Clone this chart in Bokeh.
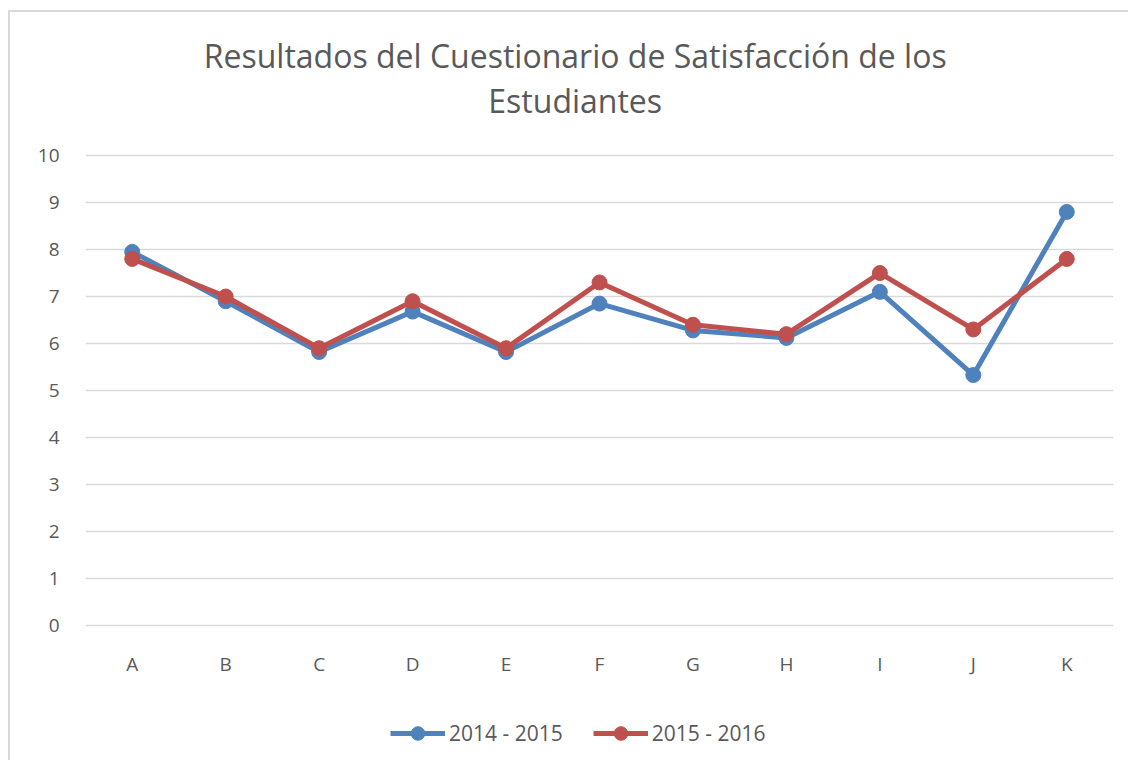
from bokeh.plotting import figure
from bokeh.models import Range1d, Label, Legend, LegendItem, FixedTicker
from bokeh.embed import file_html
from bokeh.resources import INLINE

categories = ["A", "B", "C", "D", "E", "F", "G", "H", "I", "J", "K"]
serie_2014_2015 = [7.95, 6.9, 5.82, 6.68, 5.82, 6.85, 6.28, 6.12, 7.1, 5.33, 8.8]
serie_2015_2016 = [7.8, 7.0, 5.9, 6.9, 5.9, 7.3, 6.4, 6.2, 7.5, 6.3, 7.8]
y_ticks = [0, 1, 2, 3, 4, 5, 6, 7, 8, 9, 10]
title_lines = ["Resultados del Cuestionario de Satisfacción de los", "Estudiantes"]

FONT = "Open Sans"
TXT = "#595959"
BLUE = "#4F81BD"
RED = "#C0504D"

# frame spans the whole chart; only 0..10 is ticked/gridded, the rest hosts
# the title, the category labels and the legend
p = figure(x_range=categories, y_range=Range1d(-2.87, 13.0), width=1120, height=750,
           output_backend="svg", toolbar_location=None, title=None,
           min_border_left=75, min_border_right=17, min_border_top=2,
           min_border_bottom=2)
p.styles = {"margin-left": "8px", "margin-top": "10px",
            "border-left": "2px solid #d9d9d9", "border-top": "2px solid #d9d9d9"}
p.x_range.range_padding = 0
p.x_range.factor_padding = 0
p.outline_line_color = None
p.background_fill_color = "white"
p.border_fill_color = "white"

# title (two centred lines)
for txt, ty in zip(title_lines, [12.13, 11.17]):
    p.add_layout(Label(x=5.24, y=ty, text=txt, text_align="center",
                       text_baseline="middle", text_font=FONT,
                       text_font_size="32px", text_color=TXT))

# axes
p.yaxis.ticker = FixedTicker(ticks=y_ticks)
p.xaxis.fixed_location = 0
for ax in (p.xaxis[0], p.yaxis[0]):
    ax.axis_line_color = None
    ax.major_tick_line_color = None
    ax.minor_tick_line_color = None
    ax.major_label_text_font = FONT
    ax.major_label_text_font_size = "19px"
    ax.major_label_text_color = TXT
p.yaxis.major_label_standoff = 20
p.xaxis.major_label_standoff = 19

p.xgrid.grid_line_color = None
p.ygrid.grid_line_color = "#d9d9d9"
p.ygrid.grid_line_width = 1.5

l1 = p.line(categories, serie_2014_2015, line_color=BLUE, line_width=5, line_join="round")
c1 = p.scatter(categories, serie_2014_2015, size=15, fill_color=BLUE, line_color=BLUE)
l2 = p.line(categories, serie_2015_2016, line_color=RED, line_width=5, line_join="round")
c2 = p.scatter(categories, serie_2015_2016, size=15, fill_color=RED, line_color=RED)

legend = Legend(items=[LegendItem(label="2014 - 2015", renderers=[l1, c1]),
                       LegendItem(label="2015 - 2016", renderers=[l2, c2])],
                orientation="horizontal", location=(305, 10),
                label_text_font=FONT, label_text_font_size="21px", label_text_color=TXT,
                glyph_width=55, glyph_height=34, spacing=30, label_standoff=4,
                margin=0, padding=0, border_line_color=None, background_fill_alpha=0)
p.add_layout(legend, "center")

open("out.html", "w").write(file_html(p, INLINE))
